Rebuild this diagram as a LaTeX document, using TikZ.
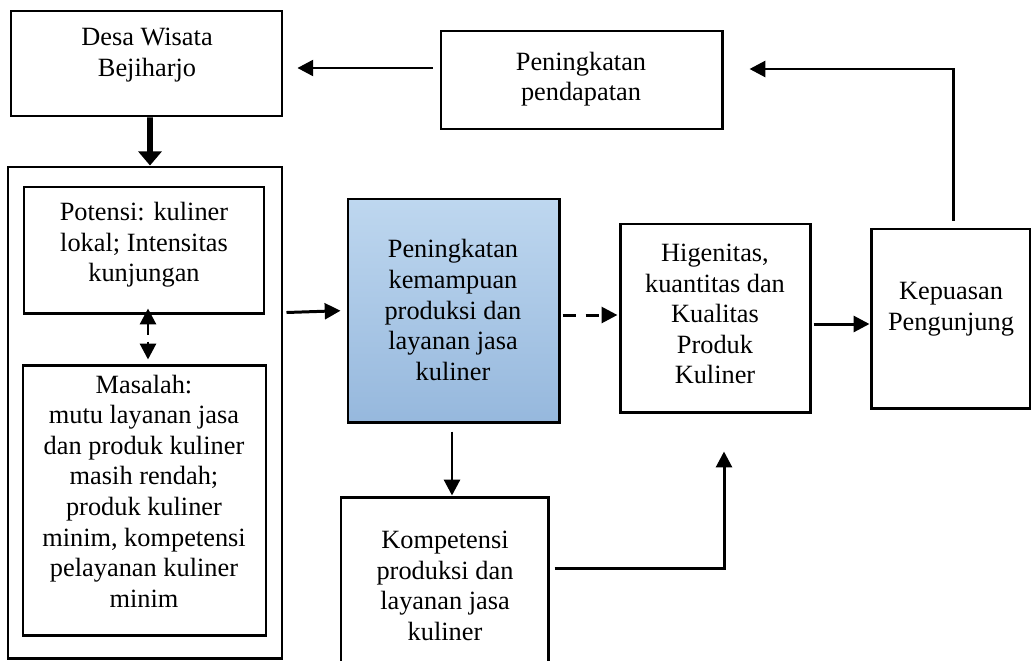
\documentclass[tikz,border=0pt]{standalone}
\usepackage{fontspec}
\setmainfont{Liberation Serif}
\usetikzlibrary{arrows.meta,fit,calc}
\definecolor{bluetop}{RGB}{190,215,239}
\definecolor{bluebot}{RGB}{150,184,221}
\begin{document}
\begin{tikzpicture}[x=0.02cm,y=-0.02cm,
  box/.style={draw=black,line width=1.7pt,inner sep=0pt},
  txt/.style={align=center,font=\fontsize{15}{17.4}\selectfont,inner sep=0pt},
  arr/.style={line width=1.7pt,-{Triangle[length=9pt,width=9pt]}},
  thickarr/.style={line width=3.2pt,-{Triangle[length=8pt,width=13pt]}}]
\clip (0,0) rectangle (1031,660);
% boxes
\node[box,fit={(11,11)(282,116)}] (desa) {};
\node[box,fit={(441,31)(722,129)}] (pend) {};
\node[box,fit={(8,167)(282,658)}] (outer) {};
\node[box,fit={(24,187)(264,313)}] (pot) {};
\node[box,fit={(23,365)(266,635)}] (mas) {};
\node[box,fit={(348,199)(559,422)},top color=bluetop,bottom color=bluebot] (blue) {};
\node[box,fit={(620,224)(810,412)}] (hig) {};
\node[box,fit={(871,229)(1030,408)}] (kep) {};
\node[box,fit={(341,497)(548,690)}] (komp) {};
% texts
\node[txt] (desaT) at (147,55) {Desa Wisata\\Bejiharjo};
\node[txt] (pendT) at (581,79) {Peningkatan\\pendapatan};
\node[txt] (potT) at (144,245) {Potensi: kuliner\\lokal; Intensitas\\kunjungan};
\node[txt] (masT) at (144,491) {Masalah:\\mutu layanan jasa\\dan produk kuliner\\masih rendah;\\produk kuliner\\minim, kompetensi\\pelayanan kuliner\\minim};
\node[txt] (blueT) at (453,310) {Peningkatan\\kemampuan\\produksi dan\\layanan jasa\\kuliner};
\node[txt] (higT) at (715,314) {Higenitas,\\kuantitas dan\\Kualitas\\Produk\\Kuliner};
\node[txt] (kepT) at (951,309) {Kepuasan\\Pengunjung};
\node[txt] (kompT) at (445,586) {Kompetensi\\produksi dan\\layanan jasa\\kuliner};
% connectors
\coordinate (p1) at ($(pend.west)+(-7,-12)$);
\draw[arr,shorten >=7.9pt] (p1) -- (p1 -| desa.east);
\draw[thickarr] ($(desa.south)+(3.5,0)$) -- ($(outer.north)+(5,0)$);
\draw[arr,shorten >=3.4pt] ($(outer.east)+(3,-100)$) -- (blue.west);
\coordinate (b1) at ($(blue.south)+(-1.5,8)$);
\draw[arr] (b1) -- (b1 |- komp.north);
\coordinate (d1) at ($(blue.east)+(2,4.5)$);
\draw[arr,dash pattern=on 7.4pt off 5.7pt,shorten >=0.6pt] (d1) -- (d1 -| hig.west);
\coordinate (h1) at ($(hig.east)+(2,6)$);
\draw[arr] (h1) -- (h1 -| kep.west);
\coordinate (k1) at ($(kep.north)+(2.5,-7)$);
\coordinate (k2) at ($(pend.east)+(26,-11)$);
\draw[arr] (k1) -- (k1 |- k2) -- (k2);
\coordinate (q1) at ($(komp.east)+(5,-25.5)$);
\coordinate (q2) at ($(hig.south)+(9,38)$);
\draw[arr] (q1) -- (q1 -| q2) -- (q2);
\coordinate (m1) at ($(pot.south)+(4,20)$);
\draw[arr] (m1) -- ($(pot.south)+(4,-6)$);
\coordinate (m2) at ($(mas.north)+(3.5,-22)$);
\draw[arr] (m2) -- ($(mas.north)+(3.5,-4)$);
\end{tikzpicture}
\end{document}
